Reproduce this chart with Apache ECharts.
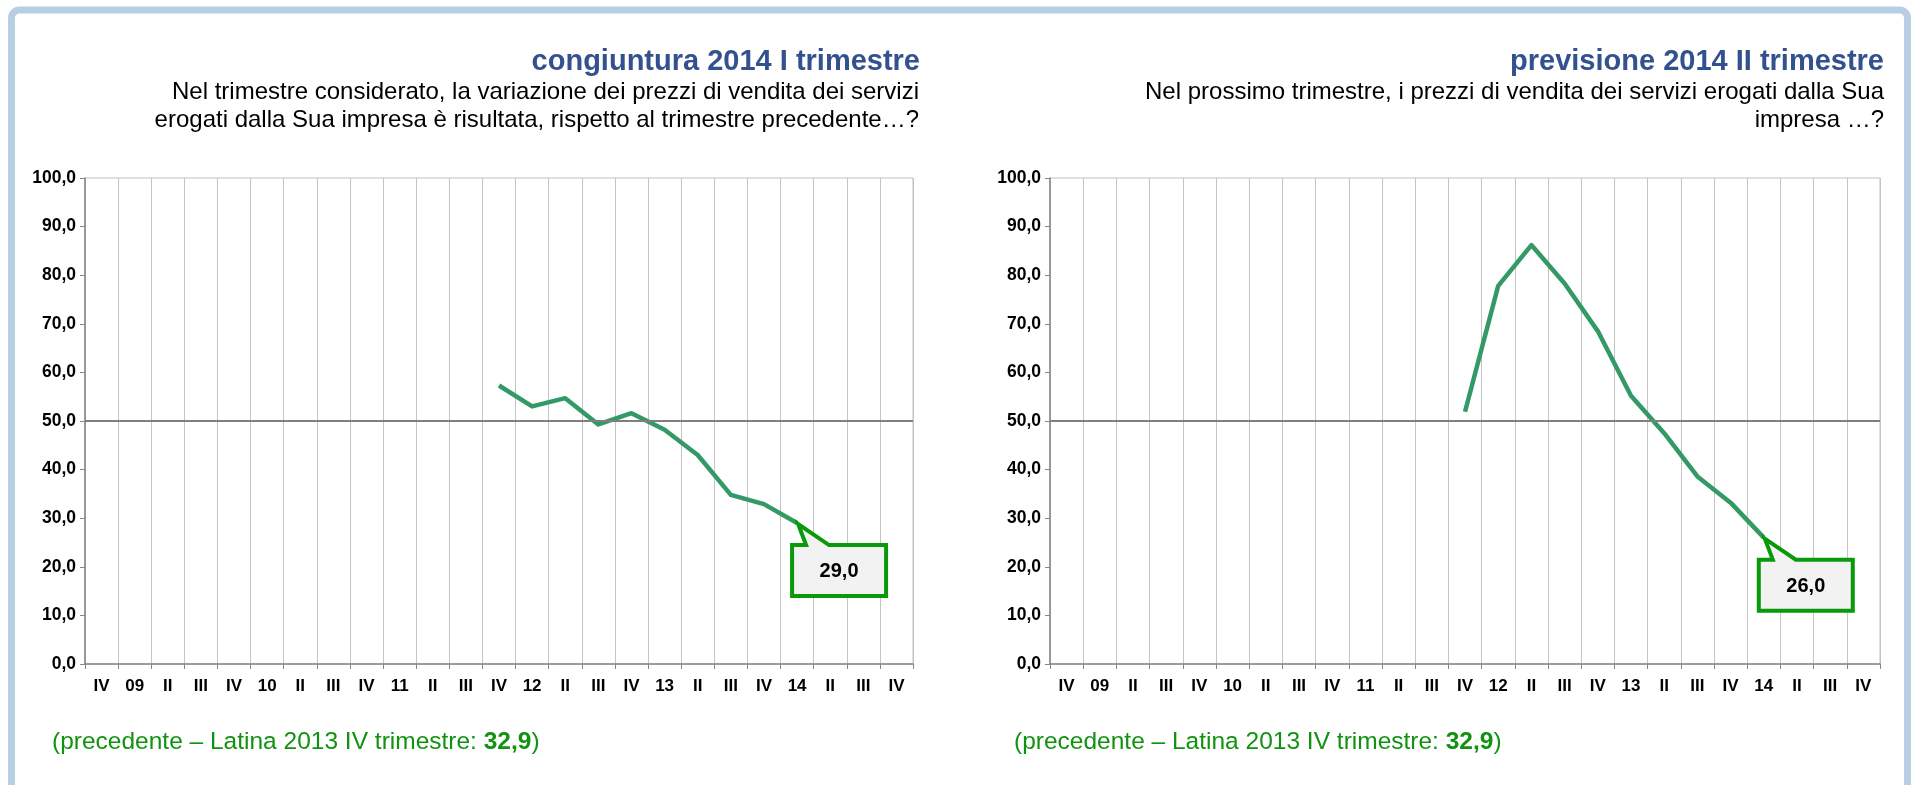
<!DOCTYPE html>
<html>
<head>
<meta charset="utf-8">
<script src="https://cdn.jsdelivr.net/npm/echarts@6/dist/echarts.min.js"></script>
<style>
html,body{margin:0;padding:0;background:#fff;}
#c{width:1912px;height:785px;}
</style>
</head>
<body>
<div id="c"></div>
<script>
// ---- data ----
const categories = ['IV','09','II','III','IV','10','II','III','IV','11','II','III','IV','12','II','III','IV','13','II','III','IV','14','II','III','IV'];
const congiunturaValues = [null,null,null,null,null,null,null,null,null,null,null,null,57.3,53.0,54.7,49.3,51.6,48.2,43.0,34.8,32.9,29.0,null,null,null];
const previsioneValues  = [null,null,null,null,null,null,null,null,null,null,null,null,51.9,77.8,86.2,78.3,68.5,55.2,47.5,38.6,33.2,26.0,null,null,null];
const yTicks = [0,10,20,30,40,50,60,70,80,90,100];
const referenceLine = 50;
const calloutIndex = 21;
const congiunturaCallout = '29,0';
const previsioneCallout = '26,0';
const leftTitle = 'congiuntura 2014 I trimestre';
const leftSub = ['Nel trimestre considerato, la variazione dei prezzi di vendita dei servizi', 'erogati dalla Sua impresa è risultata, rispetto al trimestre precedente…?'];
const rightTitle = 'previsione 2014 II trimestre';
const rightSub = ['Nel prossimo trimestre, i prezzi di vendita dei servizi erogati dalla Sua', 'impresa …?'];
const footPrefix = '(precedente – Latina 2013 IV trimestre: ';
const footValue = '32,9';

// ---- styles ----
const FONT = '"Liberation Sans", Arial, sans-serif';
const LINE_COLOR = '#339966';
const TITLE_COLOR = '#34518f';
const FOOT_COLOR = '#119211';
const CALL_BORDER = '#0a990a';

const chart = echarts.init(document.getElementById('c'));

function xAxisDef(gi){
  return {
    type:'category', gridIndex:gi, data:categories, boundaryGap:true,
    axisLine:{show:true, lineStyle:{color:'#868686', width:1.5}},
    axisTick:{show:true, length:5, interval:0, lineStyle:{color:'#868686'}},
    axisLabel:{interval:0, color:'#000', fontWeight:'bold', fontSize:17, fontFamily:FONT, margin:14},
    splitLine:{show:true, interval:0, lineStyle:{color:'#c4c4c4', width:1}}
  };
}
function yAxisDef(gi){
  return {
    type:'value', gridIndex:gi, min:yTicks[0], max:yTicks[yTicks.length-1], interval:yTicks[1]-yTicks[0],
    axisLine:{show:true, lineStyle:{color:'#868686', width:1.5}},
    axisTick:{show:true, length:5, lineStyle:{color:'#868686'}},
    axisLabel:{color:'#000', fontWeight:'bold', fontSize:17.5, fontFamily:FONT, margin:9,
      formatter:v=>v.toFixed(1).replace('.', ',')},
    splitLine:{show:false}
  };
}
function seriesDef(gi, data){
  return {
    type:'line', xAxisIndex:gi, yAxisIndex:gi, data:data,
    showSymbol:false, symbol:'none', connectNulls:false, silent:true,
    lineStyle:{color:LINE_COLOR, width:4.5, cap:'butt', join:'round'},
    markLine:{silent:true, symbol:'none', label:{show:false},
      lineStyle:{color:'#7f7f7f', width:2, type:'solid'},
      data:[{yAxis:referenceLine}]},
    z:3
  };
}

const option = {
  animation:false,
  backgroundColor:'#fff',
  grid:[
    {left:85, right:999, top:178, bottom:121, show:true, borderColor:'#c0c0c0', borderWidth:1},
    {left:1050, right:32, top:178, bottom:121, show:true, borderColor:'#c0c0c0', borderWidth:1}
  ],
  xAxis:[xAxisDef(0), xAxisDef(1)],
  yAxis:[yAxisDef(0), yAxisDef(1)],
  series:[seriesDef(0, congiunturaValues), seriesDef(1, previsioneValues)]
};
chart.setOption(option);

function textEl(text, x, y, size, weight, color){
  return {type:'text', silent:true, z:10,
    style:{text:text, x:x, y:y, align:'right', verticalAlign:'middle',
      fontSize:size, fontWeight:weight, fontFamily:FONT, fill:color}};
}
function footEl(x, y){
  return {type:'text', silent:true, z:10,
    style:{text:'{a|'+footPrefix+'}{b|'+footValue+'}{a|)}', x:x, y:y, align:'left', verticalAlign:'middle',
      rich:{a:{fontSize:24.5, fontFamily:FONT, fill:FOOT_COLOR, color:FOOT_COLOR},
            b:{fontSize:24.5, fontFamily:FONT, fontWeight:'bold', fill:FOOT_COLOR, color:FOOT_COLOR}}}};
}
function calloutEls(seriesIndex, values, label){
  const p = chart.convertToPixel({seriesIndex:seriesIndex}, [calloutIndex, values[calloutIndex]]);
  const x = p[0], y = p[1];
  const L = x-5, R = x+89, T = y+22, B = y+73;
  return [
    {type:'polygon', silent:true, z:20,
      shape:{points:[[L,T],[x+9,T],[x+1,y+1],[x+32,T],[R,T],[R,B],[L,B]]},
      style:{fill:'#f2f2f2', stroke:CALL_BORDER, lineWidth:4, lineJoin:'miter'}},
    {type:'text', silent:true, z:21,
      style:{text:label, x:(L+R)/2, y:(T+B)/2+1, align:'center', verticalAlign:'middle',
        fontSize:20, fontWeight:'bold', fontFamily:FONT, fill:'#000'}}
  ];
}

const graphics = [
  {type:'rect', silent:true, z:0,
    shape:{x:11.5, y:10, width:1896, height:820, r:8},
    style:{fill:'none', stroke:'#b9cde5', lineWidth:7}},
  textEl(leftTitle, 920, 62, 29, 'bold', TITLE_COLOR),
  textEl(leftSub[0], 919, 92, 24, 'normal', '#000'),
  textEl(leftSub[1], 919, 120, 24, 'normal', '#000'),
  textEl(rightTitle, 1884, 62, 29, 'bold', TITLE_COLOR),
  textEl(rightSub[0], 1884, 92, 24, 'normal', '#000'),
  textEl(rightSub[1], 1884, 120, 24, 'normal', '#000'),
  footEl(52, 742),
  footEl(1014, 742)
].concat(calloutEls(0, congiunturaValues, congiunturaCallout))
 .concat(calloutEls(1, previsioneValues, previsioneCallout));

chart.setOption({graphic:graphics});
</script>
</body>
</html>
